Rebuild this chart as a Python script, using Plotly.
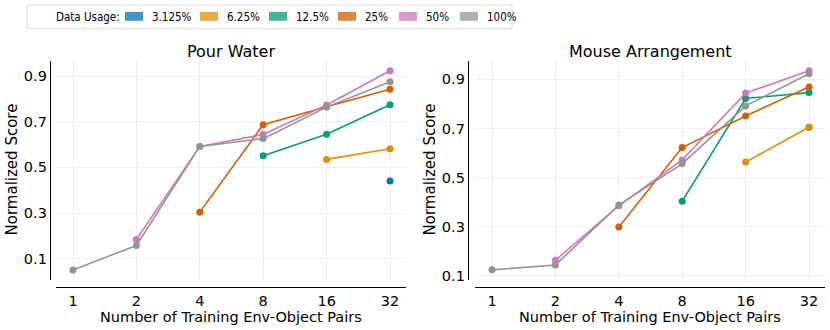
import plotly.graph_objects as go

W, H = 830, 330

pairs = [1, 2, 4, 8, 16, 32]
usage = ["3.125%", "6.25%", "12.5%", "25%", "50%", "100%"]
line_colors = ["#0173b2", "#de8f05", "#029e73", "#d55e00", "#cc78bc", "#949494"]

# Pour Water scores (None = not evaluated)
pw_3125 = [None, None, None, None, None, 0.440]
pw_625 = [None, None, None, None, 0.535, 0.582]
pw_125 = [None, None, None, 0.551, 0.645, 0.774]
pw_25 = [None, None, 0.304, 0.687, 0.766, 0.842]
pw_50 = [None, 0.184, 0.592, 0.644, 0.773, 0.923]
pw_100 = [0.051, 0.158, 0.592, 0.626, 0.764, 0.875]

# Mouse Arrangement scores
ma_3125 = [None, None, None, None, None, 0.705]
ma_625 = [None, None, None, None, 0.563, 0.705]
ma_125 = [None, None, None, 0.404, 0.822, 0.846]
ma_25 = [None, None, 0.299, 0.622, 0.751, 0.869]
ma_50 = [None, 0.163, 0.385, 0.572, 0.844, 0.935]
ma_100 = [0.124, 0.144, 0.388, 0.557, 0.792, 0.923]

yticks = [0.1, 0.3, 0.5, 0.7, 0.9]
ytick_text = ["0.1", "0.3", "0.5", "0.7", "0.9"]

pour_series = [pw_3125, pw_625, pw_125, pw_25, pw_50, pw_100]
mouse_series = [ma_3125, ma_625, ma_125, ma_25, ma_50, ma_100]


def px(x):
    return x / W


def py(y):
    return 1 - y / H


fig = go.Figure()

for vals, col, name in zip(pour_series, line_colors, usage):
    fig.add_trace(go.Scatter(x=pairs, y=vals, mode="lines+markers", name=name,
                             line=dict(color=col, width=1.6),
                             marker=dict(color=col, size=7),
                             xaxis="x", yaxis="y", showlegend=False))
for vals, col, name in zip(mouse_series, line_colors, usage):
    fig.add_trace(go.Scatter(x=pairs, y=vals, mode="lines+markers", name=name,
                             line=dict(color=col, width=1.6),
                             marker=dict(color=col, size=7),
                             xaxis="x2", yaxis="y2", showlegend=False))

tick_font = dict(family="DejaVu Sans", size=14.5, color="black")
xcommon = dict(type="log", tickvals=pairs, ticktext=[str(p) for p in pairs],
               range=[-0.0807, 1.581], showgrid=True, gridcolor="#eeeeee",
               showline=True, linecolor="black", linewidth=1.4, zeroline=False,
               ticks="", tickfont=tick_font, anchor="free",
               position=py(290))
ycommon = dict(tickvals=yticks, ticktext=ytick_text, showgrid=True,
               gridcolor="#eeeeee", showline=True, linecolor="black",
               linewidth=1.4, zeroline=False, ticks="", tickfont=tick_font,
               anchor="free", domain=[py(283), py(62)])

fig.update_layout(
    width=W, height=H,
    margin=dict(l=0, r=0, t=0, b=0),
    paper_bgcolor="white", plot_bgcolor="white",
    font=dict(family="DejaVu Sans", color="black"),
    xaxis=dict(xcommon, domain=[px(56), px(406)]),
    xaxis2=dict(xcommon, domain=[px(475), px(825)]),
    yaxis=dict(ycommon, range=[0.005, 0.964], position=px(50)),
    yaxis2=dict(ycommon, range=[0.081, 0.973], position=px(468)),
)

# subplot and axis titles
for cx, title in [(231, "Pour Water"), (650, "Mouse Arrangement")]:
    fig.add_annotation(x=px(cx), y=py(52), xref="paper", yref="paper",
                       xanchor="center", yanchor="middle",
                       text=title, showarrow=False,
                       font=dict(size=16, color="black"))
    fig.add_annotation(x=px(cx), y=py(320), xref="paper", yref="paper",
                       xanchor="center", yanchor="middle",
                       text="Number of Training Env-Object Pairs",
                       showarrow=False, font=dict(size=14.5, color="black"))
for cx in [12, 430]:
    fig.add_annotation(x=px(cx), y=py(171), xref="paper", yref="paper",
                       xanchor="center", yanchor="middle",
                       text="Normalized Score", textangle=-90,
                       showarrow=False, font=dict(size=15, color="black"))

# legend box
legend_font = dict(family="DejaVu Sans Condensed, DejaVu Sans", size=11.5,
                   color="black")
fig.add_shape(type="rect", xref="paper", yref="paper",
              x0=px(27), x1=px(512), y0=py(29), y1=py(5),
              line=dict(color="#d9d9d9", width=1), fillcolor="white")
fig.add_annotation(x=px(54), y=py(17), xref="paper", yref="paper",
                   xanchor="left", yanchor="middle", text="Data Usage:",
                   showarrow=False, font=legend_font)
patch_left = [125, 200, 269, 338, 399, 460]
for x0, col, name in zip(patch_left, line_colors, usage):
    fig.add_shape(type="rect", xref="paper", yref="paper",
                  x0=px(x0), x1=px(x0 + 18), y0=py(21), y1=py(12),
                  fillcolor=col, opacity=0.75, line=dict(width=0))
    fig.add_annotation(x=px(x0 + 25), y=py(17), xref="paper", yref="paper",
                       xanchor="left", yanchor="middle", text=name,
                       showarrow=False, font=legend_font)

fig.write_html("out.html", config={"displayModeBar": False},
               post_script="document.body.style.margin='0';")
